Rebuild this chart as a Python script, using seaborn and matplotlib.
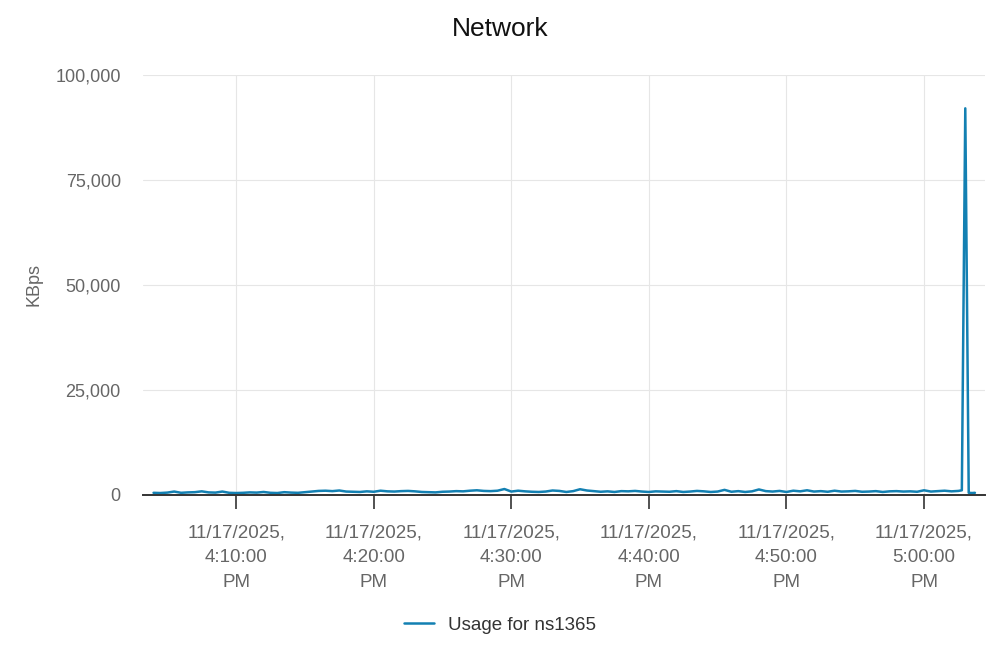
import matplotlib
matplotlib.use("Agg")
import matplotlib.pyplot as plt
import matplotlib.dates as mdates
from matplotlib.ticker import FuncFormatter
import pandas as pd
import seaborn as sns

# readings every 30 s from 4:04:00 PM, then the last few samples around the spike
start_time = "2025-11-17 16:04:00"
regular_kbps = [
    500, 450, 550, 800, 500, 600, 650, 850, 600, 550,
    800, 500, 450, 500, 600, 550, 700, 500, 450, 650,
    550, 500, 650, 800, 950, 1000, 900, 1050, 800, 750,
    700, 850, 750, 1000, 850, 800, 900, 950, 850, 700,
    650, 600, 750, 800, 900, 850, 1000, 1100, 950, 900,
    1000, 1400, 800, 1000, 850, 750, 700, 800, 1050, 950,
    700, 900, 1350, 1050, 900, 750, 850, 700, 900, 850,
    950, 800, 700, 850, 800, 750, 900, 700, 800, 950,
    850, 700, 800, 1200, 750, 900, 700, 850, 1300, 900,
    800, 950, 700, 1000, 850, 1100, 800, 900, 750, 1000,
    800, 850, 950, 750, 800, 900, 700, 850, 900, 800,
    850, 750, 1100, 800, 900, 1000, 850, 950,
]
tail_times = ["2025-11-17 17:02:45", "2025-11-17 17:03:00", "2025-11-17 17:03:15",
              "2025-11-17 17:03:30", "2025-11-17 17:03:42"]
tail_kbps = [1100, 92000, 500, 450, 500]

times = list(pd.date_range(start_time, periods=len(regular_kbps), freq="30s")) + list(pd.to_datetime(tail_times))
df = pd.DataFrame({"time": times, "KBps": regular_kbps + tail_kbps})

sns.set_theme(style="whitegrid")
plt.rcParams["font.family"] = ["Liberation Sans", "DejaVu Sans"]

line_color = "#1380b2"
grid_color = "#e6e6e6"
text_gray = "#666666"

fig = plt.figure(figsize=(10, 6.67), dpi=100)
ax = fig.add_axes([0.143, 0.258, 0.842, 0.630])

sns.lineplot(data=df, x="time", y="KBps", ax=ax, color=line_color, linewidth=1.8,
             label="Usage for ns1365")

ax.set_xlim(pd.Timestamp("2025-11-17 16:03:14"), pd.Timestamp("2025-11-17 17:04:26"))
ax.set_ylim(0, 100000)
ax.set_yticks([0, 25000, 50000, 75000, 100000])
ax.yaxis.set_major_formatter(FuncFormatter(lambda v, p: f"{int(v):,}"))

ax.xaxis.set_major_locator(mdates.MinuteLocator(byminute=[0, 10, 20, 30, 40, 50]))
ax.xaxis.set_major_formatter(mdates.DateFormatter("%m/%d/%Y,\n%-I:%M:%S\n%p"))

ax.grid(True, color=grid_color, linewidth=0.8)
for side in ["top", "right", "left"]:
    ax.spines[side].set_visible(False)
ax.spines["bottom"].set_color("#333333")
ax.spines["bottom"].set_linewidth(1.4)

ax.tick_params(axis="x", which="major", length=10, width=1.2, color="#333333",
               labelsize=13.5, labelcolor=text_gray, pad=11, bottom=True)
ax.tick_params(axis="y", length=0, labelsize=13, labelcolor=text_gray, pad=16)
for lbl in ax.get_xticklabels():
    lbl.set_linespacing(1.6)
    lbl.set_horizontalalignment("center")

ax.set_xlabel("")
ax.set_ylabel("KBps", fontsize=13, color=text_gray, labelpad=9)

fig.suptitle("Network", fontsize=19, color="#111111", y=0.975)

ax.get_legend().remove()
handles, labels = ax.get_legend_handles_labels()
fig.legend(handles, labels, loc="center", bbox_to_anchor=(0.5, 0.063), frameon=False,
           fontsize=13.5, labelcolor="#333333", handlelength=1.6)

fig.savefig("out.png", dpi=100)
